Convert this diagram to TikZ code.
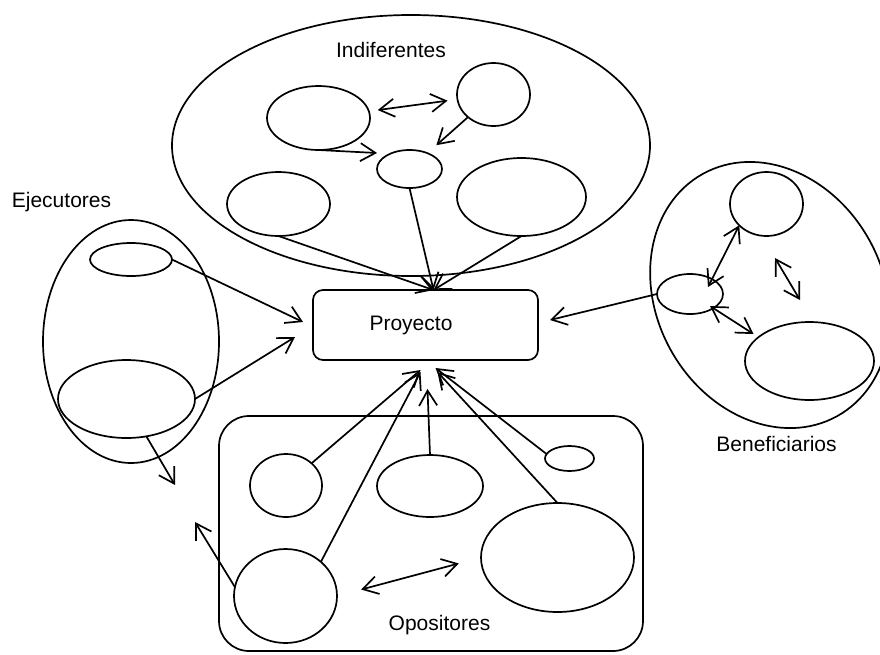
\documentclass[tikz,border=0pt]{standalone}
\usepackage{fontspec}
\setmainfont{Liberation Sans}
\usetikzlibrary{arrows.meta,shapes.geometric}
\newcommand{\linew}{1.7pt}
\newcommand{\txtsize}{\fontsize{21}{25}\selectfont}

\tikzset{
  grp/.style={draw, ellipse, line width=\linew, inner sep=0pt, outer sep=0pt},
  sub/.style 2 args={draw, ellipse, line width=\linew, inner sep=0pt, outer sep=0pt,
    minimum width=#1, minimum height=#2},
  tag/.style={font=\txtsize, anchor=base, inner sep=0pt},
  rel/.style={->, line width=\linew},
  mutual/.style={<->, line width=\linew}
}

\begin{document}
\begin{tikzpicture}[x=1pt, y=-1pt, >={Straight Barb[length=15pt,width=18pt]}]
            \useasboundingbox (0,0) rectangle (880,654);
            \node[draw, rounded corners=10pt, line width=\linew, outer sep=0pt,
              minimum width=225pt, minimum height=70pt, font=\txtsize] (proy) at (425.5,325) {\hspace*{-29pt}Proyecto};
            \begin{scope}
                \node[grp, minimum width=478pt, minimum height=261pt] (ind) at (411,145.5) {};
                \node[tag] (tind) at (391,57) {Indiferentes};
                
                \node[sub={103pt}{64pt}] (i1) at (318.5,118) {};
                \node[sub={103pt}{64pt}] (i2) at (278.5,204) {};
                \node[sub={65pt}{38pt}] (i3) at (409.5,169) {};
                \node[sub={73pt}{63pt}] (i4) at (493.5,94.5) {};
                \node[sub={129pt}{78pt}] (i5) at (521.5,197) {};
                
                \draw[mutual, shorten <=9pt, shorten >=10pt] (i1) -- (i4);
                \draw[rel, shorten >=12pt] (i4) -- (i3);
                \draw[rel] (i1.south) -- ([yshift=16pt]i3.west);
                \draw[rel] (i3.south) -- ([xshift=8pt]proy.north);
                \draw[rel] (i2.south) -- ([xshift=8pt]proy.north);
                \draw[rel] (i5.south) -- ([xshift=8pt]proy.north);
            \end{scope}
            \begin{scope}
                \node[grp, minimum width=176pt, minimum height=243pt] (eje) at (131,341.5) {};
                \node[tag] (teje) at (61.5,207) {Ejecutores};
                
                \node[sub={82pt}{33pt}] (e1) at (131,259.5) {};
                \node[sub={137pt}{78pt}] (e2) at (126.5,399) {};
                \coordinate (efree) at (175,485);
                
                \draw[rel] (e1.east) -- ([xshift=-10pt,yshift=3pt]proy.west);
                \draw[rel] (e2.east) -- ([xshift=-18pt,yshift=-12pt]proy.west);
                \draw[rel] (e2.-62) -- (efree);
            \end{scope}
            \begin{scope}
                \node[grp, minimum width=227pt, minimum height=277pt, rotate=29] (ben) at (770,295) {};
                \node[tag] (tben) at (776.5,451) {Beneficiarios};
                
                \node[sub={73pt}{64pt}] (b1) at (766.5,204) {};
                \node[sub={66pt}{40pt}] (b2) at (690,294) {};
                \node[sub={129pt}{78pt}] (b3) at (809.5,361) {};
                \coordinate (bf1) at (775,258);
                \coordinate (bf2) at (800,300);
                
                \draw[rel] (b2.west) -- ([xshift=12pt,yshift=5pt]proy.east);
                \draw[mutual] (b1.-142) -- ([xshift=18pt,yshift=7pt]b2.center);
                \draw[mutual] ([xshift=20pt,yshift=-12pt]b2.center) -- ([xshift=-56pt,yshift=27pt]b3.center);
                \draw[mutual] (bf1) -- (bf2);
            \end{scope}
            \begin{scope}
                \node[draw, rounded corners=30pt, line width=\linew, minimum width=424pt,
                  minimum height=235pt] (opo) at (431,533.5) {};
                \node[tag] (topo) at (439.5,630) {Opositores};
                
                \node[sub={72pt}{63pt}] (o1) at (286,485.5) {};
                \node[sub={106pt}{62pt}] (o2) at (430,486) {};
                \node[sub={49pt}{25pt}] (o3) at (569.5,458.5) {};
                \node[sub={103pt}{94pt}] (o4) at (285.5,596) {};
                \node[sub={153pt}{109pt}] (o5) at (557.5,557.5) {};
                \coordinate (ofree) at (195,522);
                
                \draw[rel] (o1.41) -- ([xshift=-5pt,yshift=-10pt]proy.south);
                \draw[rel] (o4.44) -- ([xshift=-5pt,yshift=-12pt]proy.south);
                \draw[rel] (o2.north) -- ([xshift=2pt,yshift=-29pt]proy.south);
                \draw[rel] (o3.169) -- ([xshift=10pt,yshift=-8pt]proy.south);
                \draw[rel] (o5.north) -- ([xshift=12pt,yshift=-12pt]proy.south);
                \draw[rel] (o4.170) -- (ofree);
                \draw[mutual, shorten <=25pt, shorten >=23pt] (o4.east) -- (o5.west);
            \end{scope}
        \end{tikzpicture}
\end{document}
